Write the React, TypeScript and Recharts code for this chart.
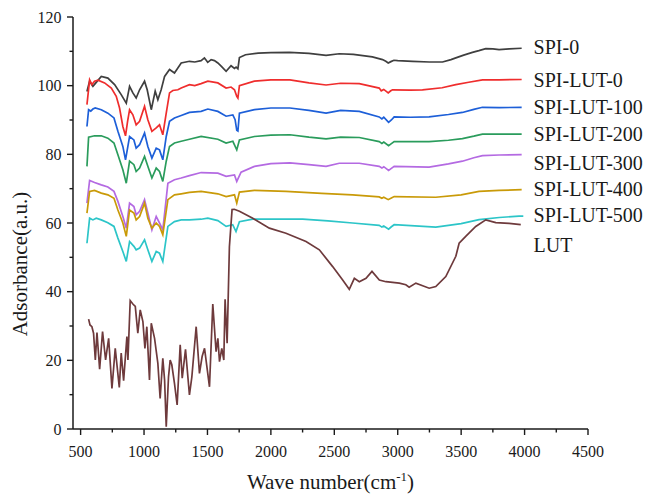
import { LineChart, Line, XAxis, YAxis, ReferenceDot } from 'recharts';

// FTIR spectra, [wavenumber cm-1, absorbance a.u.]
const spi0: [number, number][] = [
  [550, 98.3], [571, 101.3], [597, 99.8], [615, 100.6], [663, 102.7], [715, 102.2], [768, 100.3],
  [820, 97.4], [860, 94.9], [886, 99.8], [912, 97.9], [938, 96.4], [965, 98.8], [1004, 101.3],
  [1025, 98.8], [1057, 93.0], [1088, 98.4], [1109, 95.9], [1135, 98.8], [1162, 102.7], [1201, 104.7],
  [1240, 103.7], [1293, 106.6], [1358, 107.1], [1400, 106.9], [1450, 107.3], [1476, 108.1],
  [1502, 106.8], [1529, 107.6], [1555, 107.3], [1582, 106.6], [1610, 105.6], [1647, 104.2],
  [1686, 105.8], [1713, 105.0], [1726, 105.4], [1740, 104.9], [1752, 108.2], [1800, 109.0],
  [1900, 109.5], [2000, 109.6], [2146, 109.7], [2300, 109.4], [2435, 108.8], [2539, 109.3],
  [2650, 109.1], [2800, 108.4], [2880, 107.6], [2906, 107.1], [2925, 106.6], [2946, 107.0],
  [2970, 107.4], [3000, 107.3], [3117, 107.1], [3250, 106.9], [3353, 106.9], [3420, 107.6],
  [3458, 108.1], [3520, 108.9], [3589, 109.7], [3640, 110.2], [3694, 110.8], [3750, 110.7],
  [3799, 110.5], [3880, 110.7], [3977, 110.9],
];

const spiLut0: [number, number][] = [
  [550, 94.5], [571, 101.7], [589, 100.3], [610, 101.3], [637, 101.6], [689, 100.8], [742, 99.3],
  [781, 96.9], [807, 93.5], [833, 88.1], [854, 85.4], [870, 89.5], [886, 93.0], [912, 91.5],
  [938, 88.6], [965, 89.6], [1004, 94.0], [1030, 90.1], [1062, 86.7], [1096, 87.7], [1122, 88.6],
  [1148, 85.7], [1175, 92.0], [1201, 97.9], [1227, 98.6], [1267, 98.8], [1293, 99.3], [1358, 100.3],
  [1400, 100.0], [1450, 100.6], [1503, 101.3], [1582, 100.8], [1647, 99.3], [1686, 99.6],
  [1713, 98.8], [1731, 96.9], [1740, 96.4], [1752, 100.0], [1870, 101.3], [2000, 101.7],
  [2150, 101.7], [2300, 100.8], [2435, 100.2], [2550, 100.7], [2697, 100.6], [2854, 99.3],
  [2870, 98.5], [2890, 98.9], [2925, 97.9], [2945, 98.5], [2959, 98.8], [3100, 98.7], [3195, 98.8],
  [3350, 99.4], [3458, 100.3], [3560, 101.0], [3668, 101.7], [3800, 101.7], [3977, 101.8],
];

const spiLut100: [number, number][] = [
  [550, 88.1], [563, 93.0], [580, 92.6], [597, 93.2], [615, 93.5], [663, 93.0], [715, 92.0],
  [763, 90.6], [794, 86.7], [833, 82.3], [854, 78.4], [886, 85.2], [920, 84.2], [938, 81.8],
  [965, 82.8], [1004, 86.2], [1030, 82.3], [1062, 78.9], [1096, 81.8], [1122, 81.3], [1148, 78.4],
  [1175, 85.2], [1201, 89.6], [1240, 90.6], [1293, 91.3], [1358, 92.2], [1450, 92.5], [1503, 93.2],
  [1582, 92.5], [1647, 91.1], [1700, 91.5], [1718, 90.1], [1731, 87.0], [1740, 86.8], [1752, 92.0],
  [1870, 93.0], [2000, 93.5], [2150, 93.5], [2300, 92.8], [2435, 92.0], [2550, 92.8], [2697, 92.5],
  [2854, 90.9], [2875, 90.3], [2890, 90.8], [2928, 89.3], [2950, 90.0], [2972, 90.9], [3100, 90.8],
  [3247, 90.9], [3400, 91.6], [3510, 92.2], [3600, 93.1], [3668, 93.7], [3800, 93.6], [3977, 93.7],
];

const spiLut200: [number, number][] = [
  [550, 76.5], [563, 85.0], [610, 85.4], [663, 85.4], [715, 84.7], [763, 83.3], [794, 79.9],
  [833, 75.5], [860, 71.6], [886, 78.0], [920, 77.0], [938, 75.0], [965, 76.0], [1004, 79.4],
  [1030, 76.5], [1062, 73.1], [1096, 76.0], [1122, 75.0], [1148, 72.1], [1175, 78.0], [1201, 82.3],
  [1240, 83.3], [1293, 83.8], [1358, 84.4], [1450, 85.2], [1582, 84.4], [1647, 83.3], [1700, 83.8],
  [1731, 81.3], [1752, 84.2], [1870, 85.2], [2000, 85.6], [2150, 85.7], [2300, 85.0], [2435, 84.5],
  [2550, 85.0], [2697, 84.9], [2854, 83.7], [2875, 83.2], [2890, 83.6], [2928, 82.5], [2950, 83.1],
  [2972, 83.7], [3247, 83.7], [3400, 84.1], [3510, 84.6], [3600, 85.3], [3668, 85.9], [3977, 85.9],
];

const spiLut300: [number, number][] = [
  [550, 65.8], [571, 72.4], [610, 71.8], [663, 71.1], [715, 70.5], [763, 69.2], [794, 66.3],
  [833, 61.9], [860, 58.5], [886, 65.8], [920, 64.8], [938, 62.4], [965, 63.4], [1004, 66.8],
  [1030, 62.9], [1062, 58.0], [1096, 61.9], [1122, 60.0], [1148, 58.0], [1188, 71.6], [1240, 72.6],
  [1293, 73.1], [1358, 73.8], [1450, 74.7], [1582, 74.5], [1647, 73.6], [1713, 74.0], [1731, 72.1],
  [1765, 74.8], [1870, 76.5], [2000, 77.3], [2150, 77.5], [2300, 77.0], [2435, 76.5], [2539, 77.4],
  [2697, 77.4], [2854, 76.5], [2875, 76.0], [2890, 76.4], [2928, 75.3], [2950, 75.9], [2972, 76.5],
  [3247, 76.3], [3400, 77.2], [3510, 78.0], [3600, 79.0], [3668, 79.6], [3800, 79.8], [3977, 79.9],
];

const spiLut400: [number, number][] = [
  [550, 62.9], [571, 69.2], [610, 69.5], [663, 68.7], [715, 68.2], [763, 67.2], [794, 63.8],
  [833, 60.0], [860, 56.1], [886, 63.8], [920, 62.9], [938, 60.9], [965, 61.9], [1004, 65.8],
  [1030, 61.4], [1062, 58.5], [1096, 60.0], [1122, 59.0], [1148, 56.6], [1188, 66.8], [1240, 68.2],
  [1293, 68.5], [1358, 68.9], [1450, 69.2], [1582, 68.5], [1647, 67.7], [1713, 68.2], [1731, 65.8],
  [1752, 69.0], [1870, 69.5], [2119, 69.2], [2400, 68.6], [2644, 68.2], [2854, 67.6], [2875, 67.2],
  [2890, 67.5], [2925, 66.8], [2950, 67.3], [2972, 67.7], [3300, 67.5], [3500, 68.2], [3641, 69.2],
  [3800, 69.5], [3977, 69.7],
];

const spiLut500: [number, number][] = [
  [550, 54.1], [571, 61.4], [597, 60.9], [623, 61.4], [663, 60.9], [715, 60.1], [763, 59.0],
  [794, 55.6], [833, 51.7], [860, 48.8], [886, 54.6], [920, 53.2], [938, 52.2], [965, 52.7],
  [1004, 55.1], [1030, 52.2], [1062, 48.8], [1096, 51.7], [1122, 51.2], [1148, 48.8], [1188, 59.0],
  [1240, 60.4], [1293, 60.9], [1358, 60.9], [1450, 61.1], [1503, 61.4], [1582, 60.7], [1647, 59.0],
  [1699, 59.5], [1725, 57.5], [1752, 60.4], [1857, 61.1], [2251, 61.1], [2450, 60.6], [2644, 60.0],
  [2854, 59.3], [2875, 58.8], [2890, 59.1], [2928, 58.2], [2950, 58.9], [2972, 59.5], [3300, 58.8],
  [3500, 59.8], [3641, 61.0], [3800, 61.6], [3956, 62.0], [3990, 62.0],
];

const lut: [number, number][] = [
  [563, 32.0], [574, 30.3], [589, 29.8], [602, 27.9], [616, 20.1], [629, 28.1], [650, 17.4],
  [673, 28.4], [697, 20.1], [721, 26.4], [747, 11.8], [773, 23.5], [805, 12.1], [820, 22.1],
  [839, 14.1], [865, 26.9], [873, 20.1], [891, 37.4], [912, 36.4], [931, 35.7], [951, 27.9],
  [970, 34.7], [991, 31.3], [1007, 23.5], [1022, 29.8], [1043, 14.3], [1057, 30.8], [1083, 26.4],
  [1109, 19.1], [1127, 8.9], [1148, 20.6], [1162, 14.3], [1175, 0.7], [1193, 15.2], [1206, 20.1],
  [1219, 18.7], [1240, 13.3], [1261, 7.0], [1285, 24.5], [1301, 14.8], [1327, 23.2], [1358, 9.9],
  [1377, 15.2], [1411, 29.8], [1437, 16.2], [1458, 21.1], [1477, 23.5], [1516, 12.3], [1542, 36.4],
  [1568, 22.5], [1582, 26.4], [1595, 19.6], [1613, 23.5], [1629, 20.1], [1639, 37.8], [1655, 25.0],
  [1673, 53.1], [1694, 63.9], [1712, 64.0], [1752, 63.4], [1857, 61.4], [1988, 58.5], [2119, 57.0],
  [2277, 54.6], [2382, 52.2], [2487, 47.3], [2566, 43.4], [2618, 40.7], [2658, 43.9], [2697, 42.9],
  [2750, 43.9], [2797, 45.9], [2855, 43.4], [2907, 42.9], [3012, 42.5], [3064, 42.0], [3090, 41.3],
  [3143, 42.5], [3248, 41.0], [3300, 41.5], [3379, 44.4], [3458, 50.3], [3484, 54.1], [3536, 56.1],
  [3615, 59.0], [3694, 60.9], [3773, 60.1], [3878, 59.9], [3970, 59.5],
];

const seriesNames = ['SPI-0', 'SPI-LUT-0', 'SPI-LUT-100', 'SPI-LUT-200', 'SPI-LUT-300', 'SPI-LUT-400', 'SPI-LUT-500', 'LUT'];
const seriesData = [spi0, spiLut0, spiLut100, spiLut200, spiLut300, spiLut400, spiLut500, lut];
// where each name sits on the right side (absorbance units)
const labelLevels = [111.4, 101.7, 93.9, 86.0, 77.6, 70.0, 62.4, 53.6];
const labelWavenumber = 4071;

const xTicks = [500, 750, 1000, 1250, 1500, 1750, 2000, 2250, 2500, 2750, 3000, 3250, 3500, 3750, 4000, 4250, 4500];
const yTicks = [0, 10, 20, 30, 40, 50, 60, 70, 80, 90, 100, 110, 120];

const colors = ['#3f3f3f', '#ef2d2d', '#1d5fd8', '#2a9c5c', '#b46ae2', '#c99a08', '#2cc5c8', '#6e3a3c'];
const font = '"Liberation Serif", "Times New Roman", serif';
const ink = '#1a1a1a';
const TICK = 6;
const MARGIN = 2;

const XTick = ({ x, y, payload }: any) => {
  const axisY = y - TICK - MARGIN;
  const major = payload.value % 500 === 0;
  return (
    <g>
      <line x1={x} x2={x} y1={axisY} y2={axisY + (major ? 6 : 3.5)} stroke={ink} strokeWidth={1.4} />
      {major && (
        <text x={x} y={axisY + 28} textAnchor="middle" fontSize={16} fontFamily={font} fill={ink}>
          {payload.value}
        </text>
      )}
    </g>
  );
};

const YTick = ({ x, y, payload }: any) => {
  const axisX = x + TICK + MARGIN;
  const major = payload.value % 20 === 0;
  return (
    <g>
      <line x1={axisX - (major ? 6 : 3.5)} x2={axisX} y1={y} y2={y} stroke={ink} strokeWidth={1.4} />
      {major && (
        <text x={axisX - 11.5} y={y + 5.5} textAnchor="end" fontSize={16} fontFamily={font} fill={ink}>
          {payload.value}
        </text>
      )}
    </g>
  );
};

export default function App() {
  return (
    <div>
      <style>{'body{margin:0}'}</style>
      <LineChart width={652} height={496} margin={{ top: 17, right: 64, bottom: 37, left: 0 }}>
        <XAxis
          dataKey="wn"
          type="number"
          domain={[440, 4500]}
          ticks={xTicks}
          interval={0}
          allowDataOverflow
          height={30}
          tickSize={TICK}
          tickMargin={MARGIN}
          tickLine={false}
          axisLine={{ stroke: ink, strokeWidth: 1.5 }}
          tick={<XTick />}
          label={{
            content: ({ viewBox }: any) => (
              <text x={viewBox.x + viewBox.width / 2} y={viewBox.y + 60} textAnchor="middle" fontSize={21} fontFamily={font} fill={ink}>
                <tspan>Wave number(cm</tspan>
                <tspan dy={-8} fontSize={13}>-1</tspan>
                <tspan dy={8}>)</tspan>
              </text>
            ),
          }}
        />
        <YAxis
          type="number"
          domain={[0, 120]}
          ticks={yTicks}
          interval={0}
          width={73}
          tickSize={TICK}
          tickMargin={MARGIN}
          tickLine={false}
          axisLine={{ stroke: ink, strokeWidth: 1.5 }}
          tick={<YTick />}
          label={{
            content: ({ viewBox }: any) => {
              const cx = 20;
              const cy = viewBox.y + viewBox.height / 2 + 41;
              return (
                <text x={cx} y={cy} transform={`rotate(-90 ${cx} ${cy})`} textAnchor="middle" dominantBaseline="central" fontSize={21} fontFamily={font} fill={ink}>
                  Adsorbance(a.u.)
                </text>
              );
            },
          }}
        />
        {seriesData.map((pts, i) => (
          <Line
            key={seriesNames[i]}
            data={pts.map(([wn, a]) => ({ wn, a }))}
            dataKey="a"
            name={seriesNames[i]}
            type="linear"
            stroke={colors[i]}
            strokeWidth={1.7}
            dot={false}
            activeDot={false}
            isAnimationActive={false}
          />
        ))}
        {seriesNames.map((name, i) => (
          <ReferenceDot
            key={'lbl-' + name}
            x={labelWavenumber}
            y={labelLevels[i]}
            r={0}
            fill="none"
            stroke="none"
            label={{
              content: ({ viewBox }: any) => (
                <text x={viewBox.x} y={viewBox.y + 7} fontSize={20} fontFamily={font} fill={ink}>
                  {name}
                </text>
              ),
            }}
          />
        ))}
      </LineChart>
    </div>
  );
}
